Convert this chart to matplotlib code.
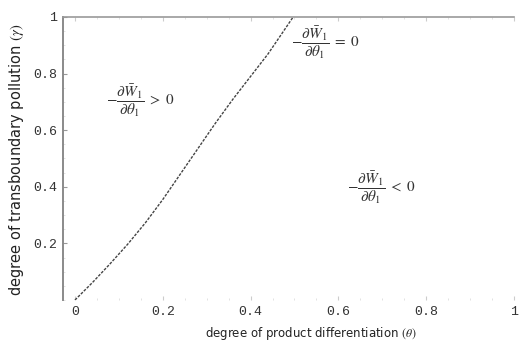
import matplotlib.pyplot as plt

# boundary curve
theta = [0, 0.04, 0.08, 0.12, 0.16, 0.20, 0.24, 0.28, 0.32, 0.36, 0.40, 0.44, 0.497]
gamma = [0, 0.062, 0.128, 0.197, 0.272, 0.355, 0.445, 0.535, 0.625, 0.71, 0.79, 0.87, 1.0]

x_ticks = [0, 0.2, 0.4, 0.6, 0.8, 1]
x_tick_labels = ["0", "0.2", "0.4", "0.6", "0.8", "1"]
y_ticks = [0.2, 0.4, 0.6, 0.8, 1]
y_tick_labels = ["0.2", "0.4", "0.6", "0.8", "1"]

plt.rcParams["mathtext.fontset"] = "stix"

fig = plt.figure(figsize=(5.21, 3.42), dpi=100)
ax = fig.add_axes([0.1209, 0.1228, 0.8656, 0.8275])

ax.plot(theta, gamma, color="#444444", linewidth=1.0, linestyle=(0, (2.0, 1.0)))

ax.set_xlim(-0.0273, 1.0)
ax.set_ylim(0, 1)

ax.spines["right"].set_visible(False)
ax.spines["bottom"].set_visible(False)
ax.spines["left"].set_color("#8a8a8a")
ax.spines["left"].set_linewidth(1.4)
ax.spines["top"].set_color("#9a9a9a")
ax.spines["top"].set_linewidth(1.2)

ax.set_xticks(x_ticks)
ax.set_xticklabels(x_tick_labels, family="Liberation Mono", fontsize=9.5, color="#333333")
ax.set_yticks(y_ticks)
ax.set_yticklabels(y_tick_labels, family="Liberation Mono", fontsize=9.5, color="#333333")
ax.tick_params(axis="x", direction="in", length=3, color="#cccccc", pad=4, top=True)
ax.tick_params(axis="y", direction="in", length=3, color="#999999", pad=4)
ax.minorticks_on()
ax.tick_params(which="minor", direction="in", length=1.5, color="#dddddd", top=True)

ax.set_xlabel(r"degree of product differentiation $(\theta)$", fontsize=8.5, color="#222222")
ax.xaxis.set_label_coords(0.55, -0.09)
ax.set_ylabel(r"degree of transboundary pollution $(\gamma)$", fontsize=10.5, color="#222222")
ax.yaxis.set_label_coords(-0.082, 0.495)

label = r"-\dfrac{\partial \bar{W}_1}{\partial \theta_1}"
ax.text(0.148, 0.706, "$" + label + r"\;>\;0$", fontsize=11, color="#333333", ha="center", va="center")
ax.text(0.57, 0.91, "$" + label + r"\;=\;0$", fontsize=11, color="#333333", ha="center", va="center")
ax.text(0.697, 0.396, "$" + label + r"\;<\;0$", fontsize=11, color="#333333", ha="center", va="center")

fig.savefig("out.png", dpi=100)
